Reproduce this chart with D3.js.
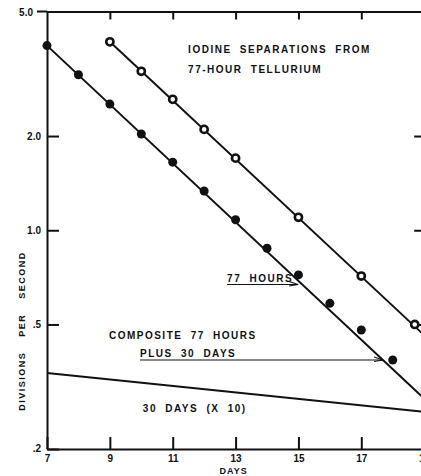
<!DOCTYPE html>
<html>
<head>
<meta charset="utf-8">
<script src="https://cdn.jsdelivr.net/npm/d3@7"></script>
<style>
  html, body { margin: 0; padding: 0; background: #fff; }
  svg { display: block; }
  text { font-family: "Liberation Sans", Arial, sans-serif; font-weight: bold; fill: #111; }
</style>
</head>
<body>
<script>
// Composite activity (77 h + 30 d), filled circles
const compositeDays   = [7, 8, 9, 10, 11, 12, 13, 14, 15, 16, 17, 18];
const compositeValues = [3.89, 3.14, 2.53, 2.03, 1.65, 1.335, 1.08, 0.876, 0.72, 0.584, 0.48, 0.385];

// Iodine separations, open circles
const iodineDays   = [9, 10, 11, 12, 13, 15, 17, 18.7];
const iodineValues = [4.0, 3.22, 2.62, 2.10, 1.70, 1.10, 0.714, 0.50];

// Fitted decay lines (end points)
const hours77Days   = [7, 19];
const hours77Values = [3.89, 0.29];
const iodineFitDays   = [9, 19];
const iodineFitValues = [4.0, 0.462];
const days30Days   = [7, 19];
const days30Values = [0.35, 0.263];

// Axis ticks
const xTickDays   = [7, 9, 11, 13, 15, 17, 19];
const xInnerTicks = [9, 11, 13, 15, 17];
const yTickValues = [5, 2, 1, 0.5, 0.2];
const yTickLabels = ["5.0", "2.0", "1.0", ".5", ".2"];
const yRightTicks = [2, 1, 0.5];

// Annotations: [text, day, value]
const notes = [
  ["IODINE SEPARATIONS FROM", 11.49, 3.68],
  ["77-HOUR TELLURIUM", 11.49, 3.18],
  ["77 HOURS", 12.73, 0.684],
  ["COMPOSITE 77 HOURS", 8.97, 0.448],
  ["PLUS 30 DAYS", 9.96, 0.394],
  ["30 DAYS (X 10)", 10.05, 0.2627]
];
// Arrows: [fromDay, toDay, value]
const arrows = [
  [12.73, 14.99, 0.671],
  [9.96, 17.69, 0.385]
];

const W = 421, H = 476;
const svg = d3.select("body").append("svg").attr("width", W).attr("height", H);

const x = d3.scaleLinear().domain([7, 19]).range([47, 47 + 12 * 31.43]);
const y = d3.scaleLog().domain([0.2, 5]).range([449, 11.5]);

const axisStroke = 2;

// Left axis
const gL = svg.append("g").attr("transform", `translate(${x(7)},0)`)
  .call(d3.axisLeft(y).tickValues(yTickValues).tickSize(-12).tickSizeOuter(0).tickPadding(6)
    .tickFormat((d, i) => yTickLabels[i]));
// Bottom axis
const gB = svg.append("g").attr("transform", `translate(0,${y(0.2)})`)
  .call(d3.axisBottom(x).tickValues(xTickDays).tickSize(-12).tickSizeOuter(0).tickPadding(6)
    .tickFormat(d3.format("d")));
// Top axis
const gT = svg.append("g").attr("transform", `translate(0,${y(5)})`)
  .call(d3.axisTop(x).tickValues(xInnerTicks).tickSize(-8).tickSizeOuter(0).tickFormat(""));
// Right axis
const gR = svg.append("g").attr("transform", `translate(${x(19)},0)`)
  .call(d3.axisRight(y).tickValues(yRightTicks).tickSize(-10).tickSizeOuter(0).tickFormat(""));

[gL, gB, gT, gR].forEach(g => {
  g.selectAll("path.domain").attr("stroke", "#111").attr("stroke-width", axisStroke);
  g.selectAll(".tick line").attr("stroke", "#111").attr("stroke-width", 2);
  g.selectAll("text").attr("font-size", 10).attr("fill", "#111")
    .attr("font-family", "'Liberation Sans', Arial, sans-serif").attr("font-weight", "bold");
});
// top label sits left of the corner stub, bottom label nudged down
gL.selectAll(".tick text").filter(d => d === 5).attr("x", -14).attr("dy", "0.42em");
gL.selectAll(".tick text").filter(d => d === 0.2).attr("dy", "0.2em");

// short outward stub at the top-left corner
svg.append("line").attr("x1", x(7) - 10).attr("x2", x(7)).attr("y1", y(5)).attr("y2", y(5))
  .attr("stroke", "#111").attr("stroke-width", axisStroke);

// Axis titles
svg.append("text").attr("x", x(13) - 2).attr("y", 474).attr("text-anchor", "middle")
  .attr("font-size", 9).attr("letter-spacing", 1).text("DAYS");
svg.append("text")
  .attr("transform", `translate(25,${331}) rotate(-90)`)
  .attr("text-anchor", "middle").attr("font-size", 9)
  .attr("letter-spacing", 1.5).attr("word-spacing", 11)
  .text("DIVISIONS PER SECOND");

// Fitted lines
const line = d3.line().x(d => x(d[0])).y(d => y(d[1]));
[[hours77Days, hours77Values], [iodineFitDays, iodineFitValues], [days30Days, days30Values]]
  .forEach(([ds, vs]) => {
    svg.append("path").datum(d3.zip(ds, vs)).attr("d", line)
      .attr("fill", "none").attr("stroke", "#111").attr("stroke-width", 2);
  });

// Points
svg.append("g").selectAll("circle").data(d3.zip(compositeDays, compositeValues)).join("circle")
  .attr("cx", d => x(d[0])).attr("cy", d => y(d[1])).attr("r", 4.5).attr("fill", "#111");
svg.append("g").selectAll("circle").data(d3.zip(iodineDays, iodineValues)).join("circle")
  .attr("cx", d => x(d[0])).attr("cy", d => y(d[1])).attr("r", 3.6)
  .attr("fill", "#fff").attr("stroke", "#111").attr("stroke-width", 2.6);

// Annotations
svg.append("g").selectAll("text").data(notes).join("text")
  .attr("x", d => x(d[1])).attr("y", d => y(d[2]))
  .attr("font-size", 10).attr("letter-spacing", 1.5).attr("word-spacing", 4)
  .text(d => d[0]);

// Arrows
arrows.forEach(([d0, d1, v]) => {
  const yy = y(v), x0 = x(d0), x1 = x(d1);
  svg.append("line").attr("x1", x0).attr("x2", x1).attr("y1", yy).attr("y2", yy)
    .attr("stroke", "#111").attr("stroke-width", 1.1);
  svg.append("path").attr("d", `M${x1 - 9},${yy - 3} L${x1},${yy} L${x1 - 9},${yy + 1.5}`)
    .attr("fill", "none").attr("stroke", "#111").attr("stroke-width", 1.1);
});
</script>
</body>
</html>
